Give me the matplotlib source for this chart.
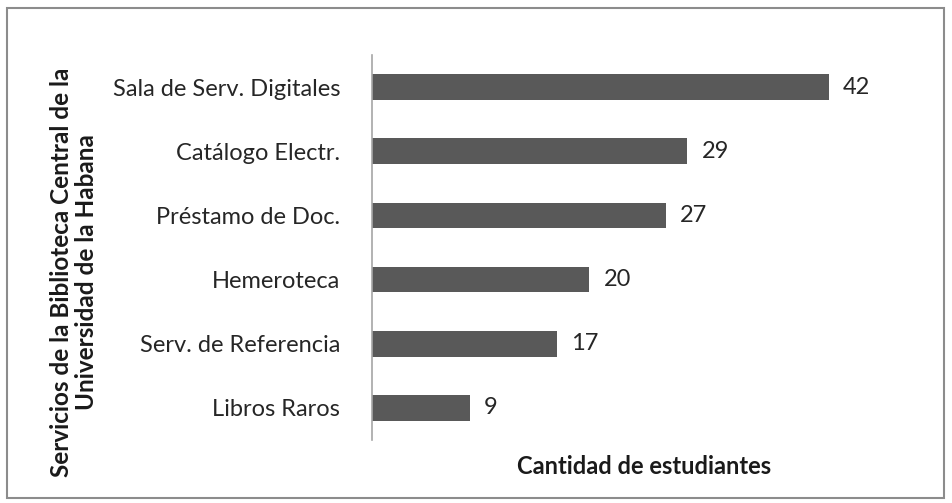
import matplotlib.pyplot as plt
from matplotlib.patches import Rectangle

servicios = ["Sala de Serv. Digitales", "Catálogo Electr.", "Préstamo de Doc.",
             "Hemeroteca", "Serv. de Referencia", "Libros Raros"]
estudiantes = [42, 29, 27, 20, 17, 9]

plt.rcParams['font.family'] = ['Lato', 'DejaVu Sans']

fig = plt.figure(figsize=(9.52, 5.03), dpi=100)
fig.patches.append(Rectangle((7/952, 5/503), 937/952, 490/503, transform=fig.transFigure,
                             fill=False, edgecolor='#8c8c8c', linewidth=1.5))

ax = fig.add_axes([372/952, 63/503, 560/952, 385/503])
pos = list(range(len(servicios)))[::-1]
ax.barh(pos, estudiantes, height=0.4, color='#595959')
for p, v in zip(pos, estudiantes):
    ax.text(v + 1.3, p, str(v), va='center', ha='left', fontsize=17, color='#262626')

ax.set_xlim(0, 51.5)
ax.set_ylim(-0.5, 5.5)
ax.set_yticks(pos)
ax.set_yticklabels(servicios, fontsize=17, color='#262626')
ax.tick_params(axis='y', length=0, pad=23)
ax.set_xticks([])
for s in ['top', 'right', 'bottom']:
    ax.spines[s].set_visible(False)
ax.spines['left'].set_color('#a6a6a6')
ax.spines['left'].set_linewidth(1.2)

fig.text(644/952, 1 - 466/503, "Cantidad de estudiantes", ha='center', va='center',
         fontsize=17, fontweight='bold', color='#1a1a1a')
fig.text(74/952, 1 - 272/503, "Servicios de la Biblioteca Central de la\nUniversidad de la Habana",
         ha='center', va='center', rotation=90, fontsize=17.5, fontweight='bold',
         color='#1a1a1a', linespacing=1.15)

fig.savefig("out.png", dpi=100)
